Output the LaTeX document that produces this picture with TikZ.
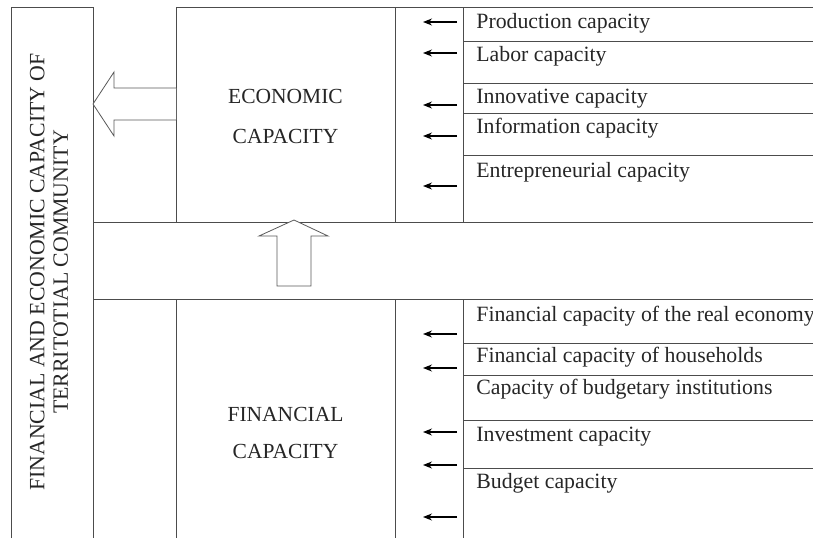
\documentclass[tikz,border=0pt]{standalone}
\usepackage{fontspec}
\setmainfont{Liberation Serif}
\usetikzlibrary{arrows.meta}

\begin{document}
\begin{tikzpicture}[x=1pt,y=-1pt,line width=0.8pt,
		every node/.style={font=\fontsize{21.8}{23.5}\selectfont,text=black!85},
		item/.style={anchor=base west,inner sep=0pt},
		small arrow/.style={-{Stealth[length=9pt,width=7pt]},line width=1.2pt}]
		\tikzstyle{frame}=[draw=black!70,line width=0.8pt]
		\tikzstyle{block}=[draw=black!65,line width=0.8pt,fill=white,line join=miter]
		\useasboundingbox (0,0) rectangle (813,538);
		
		% frame
		\draw[frame] (11,538) -- (11,7) -- (93,7) -- (93,538);
		\draw[frame] (176,222) -- (176,7) -- (813,7);
		\draw[frame] (93,222) -- (813,222) (93,299) -- (813,299);
		\draw[frame] (176,299) -- (176,538);
		\foreach \x in {395,463}
		\draw[frame] (\x,7) -- (\x,222) (\x,299) -- (\x,538);
		\foreach \y in {41,83,113,155,343,375,420,468}
		\draw[frame] (463,\y) -- (813,\y);
		
		\node[rotate=90,align=center,inner sep=0pt] (fec) at (49,272)
		{FINANCIAL AND ECONOMIC CAPACITY OF\\TERRITOTIAL COMMUNITY};
		\node[align=center,inner sep=0pt,font=\fontsize{21.5}{40}\selectfont] (eco) at (285.5,116) {ECONOMIC\\CAPACITY};
		\node[align=center,inner sep=0pt,font=\fontsize{21.5}{37}\selectfont] (fin) at (285.5,433) {FINANCIAL\\CAPACITY};
		
		\foreach \y/\t [count=\i] in {28/Production capacity,61/Labor capacity,103/Innovative capacity,
			133/Information capacity,177/Entrepreneurial capacity}
		\node[item] (e\i) at (476,\y) {\t};
		\foreach \y/\t [count=\i] in {321/Financial capacity of the real economy,362/Financial capacity of households,
			394/Capacity of budgetary institutions,441/Investment capacity,488/Budget capacity}
		\node[item] (f\i) at (476,\y) {\t};
		
		\foreach \y [count=\i] in {22,53,105,136,186,334,368,432,465,517}{
			\coordinate (s\i) at (457,\y);
			\coordinate (t\i) at (423,\y);
			\draw[small arrow] (s\i) -- (t\i);
		}
		
		% block arrows
		\draw[block] (176,88) -- (114,88) -- (114,72) -- (93,104) -- (114,136) -- (114,120) -- (176,120);
		\draw[block] (277,286) -- (277,236) -- (259,236) -- (294,220) -- (328,236) -- (311,236) -- (311,286) -- cycle;
	\end{tikzpicture}
\end{document}
